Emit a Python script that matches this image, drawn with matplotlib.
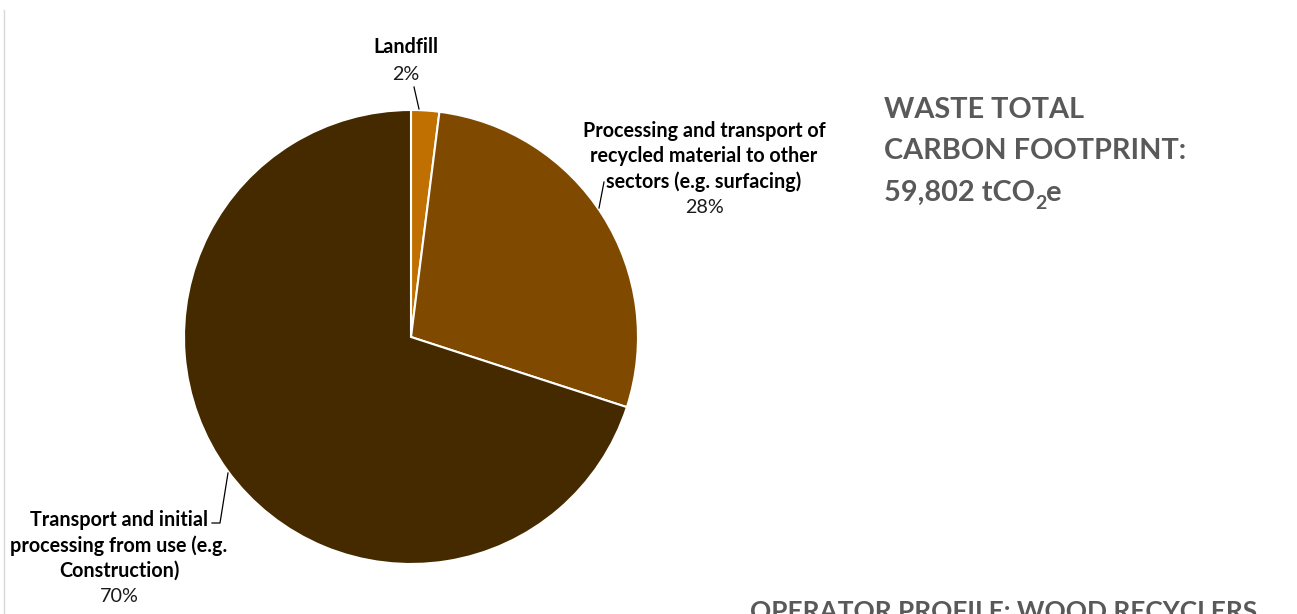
import matplotlib.pyplot as plt
from matplotlib.lines import Line2D
from matplotlib.transforms import offset_copy

plt.rcParams['font.family'] = ['Lato', 'DejaVu Sans']

# waste footprint split (share of total, %)
categories = ['Landfill',
              'Processing and transport of\nrecycled material to other\nsectors (e.g. surfacing)',
              'Transport and initial\nprocessing from use (e.g.\nConstruction)']
shares = [2, 28, 70]
colors = ['#C07000', '#7F4A00', '#452A00']

W, H = 1297, 614
fig = plt.figure(figsize=(W / 100, H / 100), dpi=100)

# pie centre at (411, 337) px, radius 227 px
cx, cy, r = 411, 337, 227
ax = fig.add_axes([(cx - r) / W, (H - cy - r) / H, 2 * r / W, 2 * r / H])
ax.pie(shares, colors=colors, startangle=90, counterclock=False, radius=1,
       wedgeprops=dict(edgecolor='white', linewidth=1.5))
ax.set_xlim(-1, 1)
ax.set_ylim(-1, 1)
ax.set_aspect('equal')
ax.axis('off')


def px(x, y):
    return (x - cx) / r, (cy - y) / r


def put_label(name, pct, x, y_top, step=25.5):
    lines = name.split('\n')
    for i, ln in enumerate(lines):
        ax.text(*px(x, y_top + i * step), ln, ha='center', va='center',
                fontsize=14.2, fontweight='bold', color='black', clip_on=False)
    ax.text(*px(x, y_top + len(lines) * step), f'{pct}%', ha='center', va='center',
            fontsize=14.2, color='#1a1a1a', clip_on=False)


def leader(pts):
    xs, ys = zip(*[px(a, b) for a, b in pts])
    ax.plot(xs, ys, color='black', lw=0.9, clip_on=False)


put_label(categories[0], shares[0], 406, 47, step=27)
put_label(categories[1], shares[1], 704, 131)
put_label(categories[2], shares[2], 119, 520)

leader([(414, 87), (419, 109)])
leader([(604, 182), (599, 208)])
leader([(212, 523), (220, 523), (228, 473)])

# faint frame line on the left
fig.add_artist(Line2D([4 / W, 4 / W], [0, (H - 10) / H], color='#d9d9d9', lw=1))

title_kw = dict(ha='left', va='baseline', fontweight='bold', color='#595959')
fig.text(884 / W, 1 - 118 / H, 'WASTE TOTAL', fontsize=20.8, **title_kw)
fig.text(884 / W, 1 - 159 / H, 'CARBON FOOTPRINT:', fontsize=20.8, **title_kw)

# total line with a lowered subscript 2
renderer = fig.canvas.get_renderer()
t1 = fig.text(884 / W, 1 - 201 / H, '59,802 tCO', fontsize=20.8, **title_kw)
w1 = t1.get_window_extent(renderer).width
t2 = fig.text(884 / W, 1 - 201 / H, '2', fontsize=14,
              transform=offset_copy(fig.transFigure, fig=fig, x=w1 * 72 / 100, y=-6, units='points'),
              **title_kw)
w2 = t2.get_window_extent(renderer).width
fig.text(884 / W, 1 - 201 / H, 'e', fontsize=20.8,
         transform=offset_copy(fig.transFigure, fig=fig, x=(w1 + w2) * 72 / 100, y=0, units='points'),
         **title_kw)

fig.text(750 / W, -6 / H, 'OPERATOR PROFILE: WOOD RECYCLERS', ha='left', va='baseline',
         fontsize=18.9, fontweight='bold', color='#595959')

fig.savefig('out.png', dpi=100)
